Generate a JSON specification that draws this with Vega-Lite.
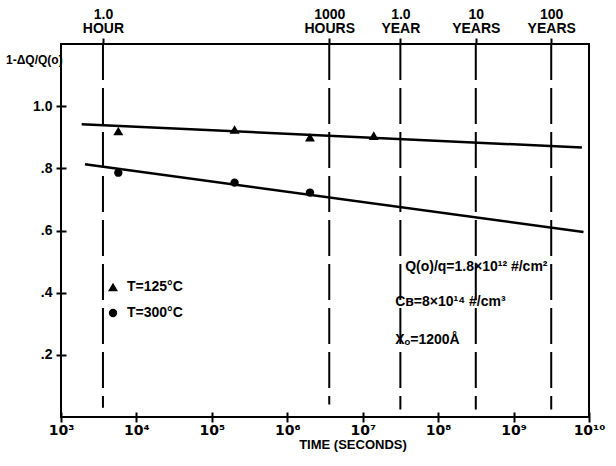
{
  "$schema": "https://vega.github.io/schema/vega-lite/v6.json",
  "autosize": "none",
  "width": 528,
  "height": 373,
  "padding": {"left": 61, "top": 44, "right": 27, "bottom": 49},
  "background": "white",
  "config": {
    "view": {"stroke": "black", "strokeWidth": 2},
    "font": "Liberation Sans",
    "axis": {"grid": false, "labelColor": "black", "titleColor": "black", "tickColor": "black", "labelFont": "Liberation Sans", "titleFont": "Liberation Sans", "labelFontWeight": "bold", "titleFontWeight": "bold"}
  },
  "data": {"values": [{"note": "annotation"}]},
  "datasets": {
    "points": [
      {"t": 5750, "frac": 0.92, "temp": "T=125°C"},
      {"t": 200000, "frac": 0.925, "temp": "T=125°C"},
      {"t": 2000000, "frac": 0.9, "temp": "T=125°C"},
      {"t": 14000000, "frac": 0.905, "temp": "T=125°C"},
      {"t": 5750, "frac": 0.786, "temp": "T=300°C"},
      {"t": 200000, "frac": 0.754, "temp": "T=300°C"},
      {"t": 2000000, "frac": 0.722, "temp": "T=300°C"}
    ],
    "fits": [
      {"t": 1880, "frac": 0.942, "series": "125"},
      {"t": 8050000000, "frac": 0.867, "series": "125"},
      {"t": 2080, "frac": 0.813, "series": "300"},
      {"t": 8450000000, "frac": 0.595, "series": "300"}
    ],
    "markers": [
      {"t": 3600, "label": "1.0 HOUR", "top": 1.2, "bottom": 0.03},
      {"t": 3600000, "label": "1000 HOURS", "top": 1.2, "bottom": 0.04},
      {"t": 31557600, "label": "1.0 YEAR", "top": 1.2, "bottom": 0.024},
      {"t": 315576000, "label": "10 YEARS", "top": 1.2, "bottom": 0.024},
      {"t": 3155760000, "label": "100 YEARS", "top": 1.2, "bottom": 0.024}
    ]
  },
  "resolve": {"axis": {"x": "independent"}},
  "layer": [
    {
      "data": {"name": "markers"},
      "mark": {"type": "rule", "color": "black", "strokeWidth": 2, "strokeDash": [36, 8]},
      "encoding": {
        "x": {"field": "t", "type": "quantitative", "scale": {"type": "log", "domain": [1000, 10000000000], "nice": false},
          "axis": {"orient": "top", "values": [3600, 3600000, 31557600, 315576000, 3155760000], "domain": false, "tickSize": 6, "tickWidth": 2, "labelPadding": 17, "labelFontSize": 14, "labelLineHeight": 14, "labelFlush": false, "labelOverlap": false,
            "labelExpr": "datum.value < 10000 ? ['1.0','HOUR'] : datum.value < 10000000 ? ['1000','HOURS'] : datum.value < 100000000 ? ['1.0','YEAR'] : datum.value < 1000000000 ? ['10','YEARS'] : ['100','YEARS']", "title": null}},
        "y": {"field": "top", "type": "quantitative", "scale": {"domain": [0, 1.2], "nice": false},
          "axis": {"orient": "left", "values": [0.2, 0.4, 0.6, 0.8, 1.0], "offset": -5, "domain": false, "tickSize": 10, "tickWidth": 2, "labelPadding": 4, "labelFontSize": 14, "labelExpr": "datum.value >= 1 ? '1.0' : '.' + round(datum.value * 10)", "title": null}},
        "y2": {"field": "bottom"}
      }
    },
    {
      "data": {"name": "fits"},
      "mark": {"type": "line", "color": "black", "strokeWidth": 2.5},
      "encoding": {
        "x": {"field": "t", "type": "quantitative", "axis": null},
        "y": {"field": "frac", "type": "quantitative",
          "axis": {"orient": "left", "values": [0.2, 0.4, 0.6, 0.8, 1.0], "offset": -5, "domain": false, "tickSize": 10, "tickWidth": 2, "labelPadding": 4, "labelFontSize": 14, "labelExpr": "datum.value >= 1 ? '1.0' : '.' + round(datum.value * 10)", "title": null}},
        "detail": {"field": "series", "type": "nominal"}
      }
    },
    {
      "data": {"name": "points"},
      "mark": {"type": "point", "filled": true, "color": "black", "opacity": 1},
      "encoding": {
        "x": {"field": "t", "type": "quantitative",
          "axis": {"orient": "bottom", "values": [1000, 10000, 100000, 1000000, 10000000, 100000000, 1000000000, 10000000000], "offset": -5, "domain": false, "tickSize": 10, "tickWidth": 2, "labelPadding": 1, "labelFont": "DejaVu Sans", "labelFontSize": 14, "labelFlush": false, "labelOverlap": false,
            "labelExpr": "'10' + ['³','⁴','⁵','⁶','⁷','⁸','⁹','¹⁰'][round(log(datum.value)/LN10) - 3]",
            "title": null}},
        "y": {"field": "frac", "type": "quantitative",
          "axis": {"orient": "left", "values": [0.2, 0.4, 0.6, 0.8, 1.0], "offset": -5, "domain": false, "tickSize": 10, "tickWidth": 2, "labelPadding": 4, "labelFontSize": 14, "labelExpr": "datum.value >= 1 ? '1.0' : '.' + round(datum.value * 10)", "title": null}},
        "shape": {"field": "temp", "type": "nominal", "scale": {"domain": ["T=125°C", "T=300°C"], "range": ["triangle-up", "circle"]},
          "legend": {"orient": "none", "legendX": 45, "legendY": 236, "title": null, "padding": 0, "labelFontSize": 14, "labelFontWeight": "bold", "labelColor": "black", "labelFont": "Liberation Sans", "symbolFillColor": "black", "symbolStrokeColor": "black", "rowPadding": 10, "labelOffset": 7}},
        "size": {"field": "temp", "type": "nominal", "scale": {"domain": ["T=125°C", "T=300°C"], "range": [100, 70]}}
      }
    },
    {
      "mark": {"type": "text", "text": "TIME (SECONDS)", "align": "center", "baseline": "middle", "fontSize": 13, "fontWeight": "bold", "color": "black"},
      "encoding": {"x": {"datum": 7430000, "type": "quantitative", "axis": null},
        "y": {"datum": -0.09, "type": "quantitative",
          "axis": {"orient": "left", "values": [0.2, 0.4, 0.6, 0.8, 1.0], "offset": -5, "domain": false, "tickSize": 10, "tickWidth": 2, "labelPadding": 4, "labelFontSize": 14, "labelExpr": "datum.value >= 1 ? '1.0' : '.' + round(datum.value * 10)", "title": null}}}
    },
    {
      "mark": {"type": "text", "text": "1-ΔQ/Q(o)", "align": "left", "baseline": "middle", "fontSize": 12, "fontWeight": "bold", "color": "black"},
      "encoding": {"x": {"datum": 187, "type": "quantitative", "axis": null},
        "y": {"datum": 1.15, "type": "quantitative",
          "axis": {"orient": "left", "values": [0.2, 0.4, 0.6, 0.8, 1.0], "offset": -5, "domain": false, "tickSize": 10, "tickWidth": 2, "labelPadding": 4, "labelFontSize": 14, "labelExpr": "datum.value >= 1 ? '1.0' : '.' + round(datum.value * 10)", "title": null}}}
    },
    {
      "mark": {"type": "text", "text": "Q(o)/q=1.8×10¹² #/cm²", "align": "left", "baseline": "middle", "fontSize": 14, "fontWeight": "bold", "color": "black"},
      "encoding": {"x": {"datum": 36500000, "type": "quantitative", "axis": null},
        "y": {"datum": 0.481, "type": "quantitative",
          "axis": {"orient": "left", "values": [0.2, 0.4, 0.6, 0.8, 1.0], "offset": -5, "domain": false, "tickSize": 10, "tickWidth": 2, "labelPadding": 4, "labelFontSize": 14, "labelExpr": "datum.value >= 1 ? '1.0' : '.' + round(datum.value * 10)", "title": null}}}
    },
    {
      "mark": {"type": "text", "text": "Cʙ=8×10¹⁴ #/cm³", "align": "left", "baseline": "middle", "fontSize": 14, "fontWeight": "bold", "color": "black"},
      "encoding": {"x": {"datum": 26900000, "type": "quantitative", "axis": null},
        "y": {"datum": 0.371, "type": "quantitative",
          "axis": {"orient": "left", "values": [0.2, 0.4, 0.6, 0.8, 1.0], "offset": -5, "domain": false, "tickSize": 10, "tickWidth": 2, "labelPadding": 4, "labelFontSize": 14, "labelExpr": "datum.value >= 1 ? '1.0' : '.' + round(datum.value * 10)", "title": null}}}
    },
    {
      "mark": {"type": "text", "text": "Xₒ=1200Å", "align": "left", "baseline": "middle", "fontSize": 14, "fontWeight": "bold", "color": "black"},
      "encoding": {"x": {"datum": 26900000, "type": "quantitative", "axis": null},
        "y": {"datum": 0.248, "type": "quantitative",
          "axis": {"orient": "left", "values": [0.2, 0.4, 0.6, 0.8, 1.0], "offset": -5, "domain": false, "tickSize": 10, "tickWidth": 2, "labelPadding": 4, "labelFontSize": 14, "labelExpr": "datum.value >= 1 ? '1.0' : '.' + round(datum.value * 10)", "title": null}}}
    }
  ]
}
